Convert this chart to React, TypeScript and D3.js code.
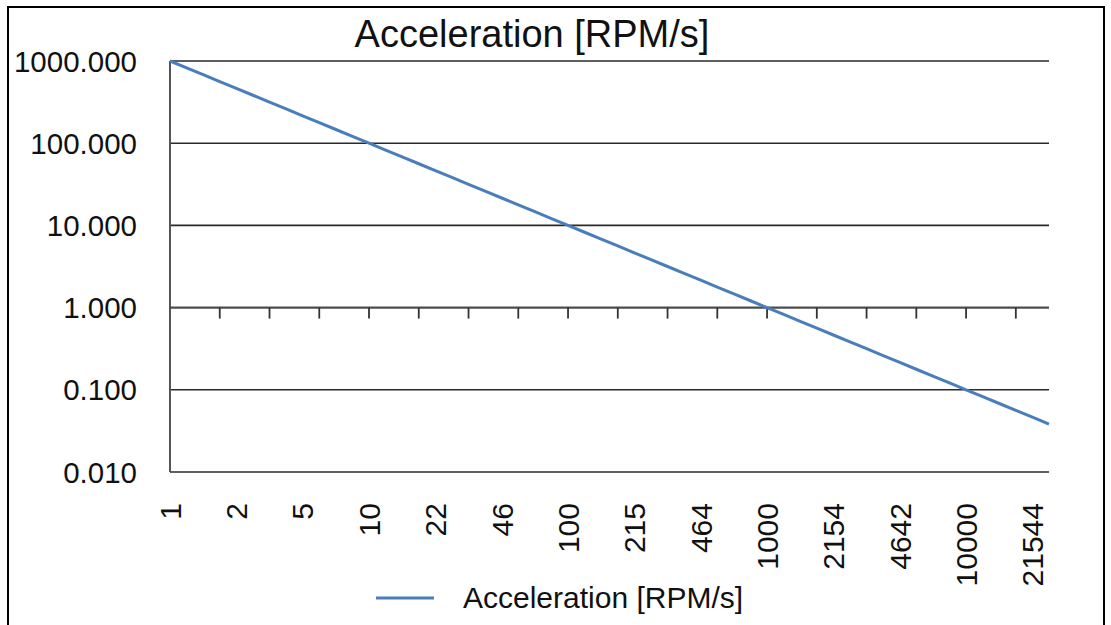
import React, { useRef, useEffect } from "react";
import * as d3 from "d3";

// speed steps [RPM] on the category axis (1/12 decade apart)
const speeds = [
  1, 1.2115, 1.4678, 1.7783, 2.1544, 2.6102, 3.1623, 3.8312, 4.6416, 5.6234,
  6.8129, 8.254, 10, 12.115, 14.678, 17.783, 21.544, 26.102, 31.623, 38.312,
  46.416, 56.234, 68.129, 82.54, 100, 121.15, 146.78, 177.83, 215.44, 261.02,
  316.23, 383.12, 464.16, 562.34, 681.29, 825.4, 1000, 1211.5, 1467.8, 1778.3,
  2154.4, 2610.2, 3162.3, 3831.2, 4641.6, 5623.4, 6812.9, 8254, 10000, 12115,
  14678, 17783, 21544, 26102,
];

// acceleration [RPM/s] for each step
const acceleration = [
  1000, 825.4, 681.29, 562.34, 464.16, 383.12, 316.23, 261.02, 215.44, 177.83,
  146.78, 121.15, 100, 82.54, 68.129, 56.234, 46.416, 38.312, 31.623, 26.102,
  21.544, 17.783, 14.678, 12.115, 10, 8.254, 6.8129, 5.6234, 4.6416, 3.8312,
  3.1623, 2.6102, 2.1544, 1.7783, 1.4678, 1.2115, 1, 0.8254, 0.68129, 0.56234,
  0.46416, 0.38312, 0.31623, 0.26102, 0.21544, 0.17783, 0.14678, 0.12115, 0.1,
  0.08254, 0.068129, 0.056234, 0.046416, 0.038312,
];

const yTicks = [0.01, 0.1, 1, 10, 100, 1000];
const seriesName = "Acceleration [RPM/s]";

const W = 1111;
const H = 625;

const App = () => {
  const svgRef = useRef<SVGSVGElement>(null);

  useEffect(() => {
    document.body.style.margin = "0";
    const svg = d3.select(svgRef.current);
    svg.selectAll("*").remove();

    const font = "'Liberation Sans', Arial, Helvetica, sans-serif";
    const left = 170;
    const right = 1049;
    const top = 61;
    const bottom = 472;
    const blue = "#4a7ebb";

    // chart border (bottom edge runs off the page)
    svg
      .append("rect")
      .attr("x", 8)
      .attr("y", 7)
      .attr("width", 1096)
      .attr("height", 660)
      .attr("fill", "#fff")
      .attr("stroke", "#000")
      .attr("stroke-width", 2);

    const x = d3
      .scalePoint<number>()
      .domain(d3.range(speeds.length))
      .range([left, right]);
    const y = d3.scaleLog().domain([0.01, 1000]).range([bottom, top]);

    // title
    svg
      .append("text")
      .attr("x", 532)
      .attr("y", 47)
      .attr("text-anchor", "middle")
      .attr("font-family", font)
      .attr("font-size", 38)
      .attr("fill", "#111")
      .text(seriesName);

    // gridlines
    svg
      .append("g")
      .selectAll("line")
      .data(yTicks.filter((d) => d !== 1))
      .enter()
      .append("line")
      .attr("x1", left)
      .attr("x2", right)
      .attr("y1", (d) => y(d))
      .attr("y2", (d) => y(d))
      .attr("stroke", "#2a2a2a")
      .attr("stroke-width", 1.6);

    // y labels
    svg
      .append("g")
      .selectAll("text")
      .data(yTicks)
      .enter()
      .append("text")
      .attr("x", 137)
      .attr("y", (d) => y(d))
      .attr("dy", "0.36em")
      .attr("text-anchor", "end")
      .attr("font-family", font)
      .attr("font-size", 29.5)
      .attr("fill", "#111")
      .text((d) => d3.format(".3f")(d));

    // y axis line
    svg
      .append("line")
      .attr("x1", left)
      .attr("x2", left)
      .attr("y1", top)
      .attr("y2", bottom)
      .attr("stroke", "#555")
      .attr("stroke-width", 2);

    // horizontal axis crosses at 1
    const y1 = y(1);
    svg
      .append("line")
      .attr("x1", left)
      .attr("x2", right)
      .attr("y1", y1)
      .attr("y2", y1)
      .attr("stroke", "#4d4d4d")
      .attr("stroke-width", 2.4);

    // tick marks every 3 categories
    svg
      .append("g")
      .selectAll("line")
      .data(d3.range(3, speeds.length, 3))
      .enter()
      .append("line")
      .attr("x1", (d) => x(d)!)
      .attr("x2", (d) => x(d)!)
      .attr("y1", y1)
      .attr("y2", y1 + 11)
      .attr("stroke", "#333")
      .attr("stroke-width", 1.8);

    // category labels every 4 categories
    svg
      .append("g")
      .selectAll("text")
      .data(d3.range(0, speeds.length, 4))
      .enter()
      .append("text")
      .attr("transform", (d) => `translate(${x(d)},503) rotate(-90)`)
      .attr("dy", "0.36em")
      .attr("text-anchor", "end")
      .attr("font-family", font)
      .attr("font-size", 30)
      .attr("fill", "#111")
      .text((d) => Math.round(speeds[d]).toString());

    // series line
    const line = d3
      .line<number>()
      .x((_, i) => x(i)!)
      .y((d) => y(d));
    svg
      .append("path")
      .datum(acceleration)
      .attr("d", line)
      .attr("fill", "none")
      .attr("stroke", blue)
      .attr("stroke-width", 3);

    // legend
    svg
      .append("line")
      .attr("x1", 376)
      .attr("x2", 434)
      .attr("y1", 598)
      .attr("y2", 598)
      .attr("stroke", blue)
      .attr("stroke-width", 3);
    svg
      .append("text")
      .attr("x", 463)
      .attr("y", 608)
      .attr("font-family", font)
      .attr("font-size", 30)
      .attr("fill", "#111")
      .text(seriesName);
  }, []);

  return (
    <div style={{ width: W, height: H }}>
      <svg ref={svgRef} width={W} height={H} style={{ display: "block" }}></svg>
    </div>
  );
};

export default App;
